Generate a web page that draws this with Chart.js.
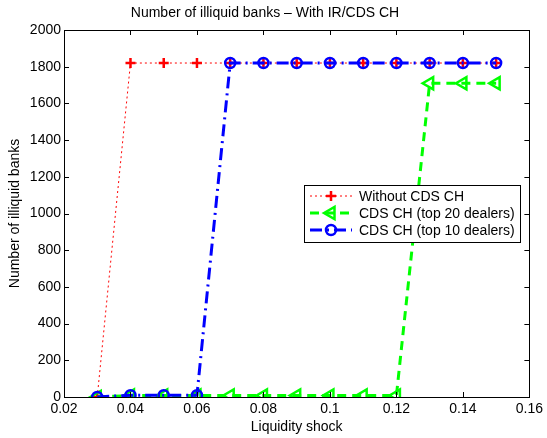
<!DOCTYPE html>
<html>
<head>
<meta charset="utf-8">
<script src="https://cdn.jsdelivr.net/npm/chart.js@4.4.0/dist/chart.umd.min.js"></script>
<style>
  html, body { margin: 0; padding: 0; background: #fff; }
  #wrap { width: 547px; height: 438px; }
</style>
</head>
<body>
<div id="wrap"><canvas id="c" width="547" height="438"></canvas></div>
<script>
// data
const shocks = [0.03, 0.04, 0.05, 0.06, 0.07, 0.08, 0.09, 0.10, 0.11, 0.12, 0.13, 0.14, 0.15];
const withoutCH = [0, 1820, 1820, 1820, 1820, 1820, 1820, 1820, 1820, 1820, 1820, 1820, 1820];
const top20CH = [0, 8, 8, 8, 8, 8, 8, 8, 8, 8, 1710, 1710, 1710];
const top10CH = [0, 10, 10, 10, 1820, 1820, 1820, 1820, 1820, 1820, 1820, 1820, 1820];
const seriesNames = ['Without CDS CH', 'CDS CH (top 20 dealers)', 'CDS CH (top 10 dealers)'];
const xTicks = [0.02, 0.04, 0.06, 0.08, 0.1, 0.12, 0.14, 0.16];

const FONT = '"Liberation Sans", Arial, Helvetica, sans-serif';

function pts(vals) {
  return shocks.map((x, i) => ({ x: x, y: vals[i] }));
}

// MATLAB style box with inward ticks + legend in the plot
const matlabFrame = {
  id: 'matlabFrame',
  afterDraw(chart) {
    const ctx = chart.ctx;
    const a = chart.chartArea;
    const xs = chart.scales.x, ys = chart.scales.y;
    ctx.save();
    ctx.strokeStyle = '#000';
    ctx.lineWidth = 1;
    ctx.setLineDash([]);
    ctx.beginPath();
    xs.ticks.forEach(t => {
      const px = Math.round(xs.getPixelForValue(t.value)) + 0.5;
      ctx.moveTo(px, a.bottom); ctx.lineTo(px, a.bottom - 5);
      ctx.moveTo(px, a.top); ctx.lineTo(px, a.top + 5);
    });
    ys.ticks.forEach(t => {
      const py = Math.round(ys.getPixelForValue(t.value)) + 0.5;
      ctx.moveTo(a.left, py); ctx.lineTo(a.left + 5, py);
      ctx.moveTo(a.right, py); ctx.lineTo(a.right - 5, py);
    });
    ctx.stroke();
    ctx.strokeRect(Math.round(a.left) + 0.5, Math.round(a.top) + 0.5,
      Math.round(a.right - a.left), Math.round(a.bottom - a.top));

    // legend box
    const bx = 304, by = 185, bw = 216, bh = 57;
    ctx.fillStyle = '#fff';
    ctx.fillRect(bx, by, bw, bh);
    ctx.strokeRect(bx + 0.5, by + 0.5, bw, bh);
    const rows = [196, 213, 230];
    ctx.font = '14px ' + FONT;
    ctx.textBaseline = 'middle';
    chart.data.datasets.forEach((ds, i) => {
      const y = rows[i];
      ctx.save();
      ctx.strokeStyle = ds.borderColor;
      ctx.lineWidth = ds.borderWidth;
      ctx.setLineDash(ds.borderDash || []);
      ctx.beginPath();
      ctx.moveTo(310, y); ctx.lineTo(352, y);
      ctx.stroke();
      ctx.setLineDash([]);
      ctx.strokeStyle = ds.pointBorderColor;
      ctx.fillStyle = ds.pointBackgroundColor;
      ctx.lineWidth = ds.pointBorderWidth;
      Chart.helpers.drawPoint(ctx, {
        pointStyle: ds.pointStyle,
        radius: ds.pointRadius,
        rotation: ds.pointRotation || 0,
        borderWidth: ds.pointBorderWidth
      }, 331, y);
      ctx.restore();
      ctx.fillStyle = '#000';
      ctx.fillText(ds.label, 359, y + 1);
    });
    ctx.restore();
  }
};

new Chart(document.getElementById('c'), {
  type: 'line',
  data: {
    datasets: [
      {
        label: seriesNames[0],
        data: pts(withoutCH),
        borderColor: '#ff0000',
        borderWidth: 1,
        borderDash: [2, 3],
        pointStyle: 'cross',
        pointRadius: 5,
        pointBorderWidth: 2.5,
        pointBorderColor: '#ff0000',
        pointBackgroundColor: '#ff0000',
        order: 2
      },
      {
        label: seriesNames[1],
        data: pts(top20CH),
        borderColor: '#00ff00',
        borderWidth: 3,
        borderDash: [9, 6],
        pointStyle: 'triangle',
        pointRotation: 270,
        pointRadius: 7,
        pointBorderWidth: 2.5,
        pointBorderColor: '#00ff00',
        pointBackgroundColor: 'rgba(0,0,0,0)',
        order: 1
      },
      {
        label: seriesNames[2],
        data: pts(top10CH),
        borderColor: '#0000ff',
        borderWidth: 3,
        borderDash: [12, 5, 2, 5],
        pointStyle: 'circle',
        pointRadius: 5,
        pointBorderWidth: 2.5,
        pointBorderColor: '#0000ff',
        pointBackgroundColor: 'rgba(0,0,0,0)',
        order: 0
      }
    ]
  },
  options: {
    responsive: false,
    animation: false,
    events: [],
    layout: { padding: { left: 0, right: 17, top: 0, bottom: 0 } },
    plugins: {
      legend: { display: false },
      tooltip: { enabled: false },
      title: {
        display: true,
        text: 'Number of illiquid banks \u2013 With IR/CDS CH',
        color: '#000',
        font: { family: FONT, size: 14, weight: 'normal' },
        padding: { top: 5, bottom: 8.2 }
      }
    },
    scales: {
      x: {
        type: 'linear',
        min: 0.02,
        max: 0.16,
        afterBuildTicks: s => { s.ticks = xTicks.map(v => ({ value: v })); },
        afterFit: s => { s.height = 41; },
        grid: { display: false, drawTicks: false },
        border: { display: false },
        ticks: {
          color: '#000',
          padding: 4,
          maxRotation: 0,
          autoSkip: false,
          font: { family: FONT, size: 14 },
          callback: v => String(Math.round(v * 100) / 100)
        },
        title: {
          display: true,
          text: 'Liquidity shock',
          color: '#000',
          font: { family: FONT, size: 14 },
          padding: { top: 0, bottom: 2.6 }
        }
      },
      y: {
        min: 0,
        max: 2000,
        afterFit: s => { s.width = 64; },
        grid: { display: false, drawTicks: false },
        border: { display: false },
        ticks: {
          color: '#000',
          stepSize: 200,
          padding: 3,
          font: { family: FONT, size: 14 },
          callback: v => String(v)
        },
        title: {
          display: true,
          text: 'Number of illiquid banks',
          color: '#000',
          font: { family: FONT, size: 14 },
          padding: { top: 6.6, bottom: 0 }
        }
      }
    }
  },
  plugins: [matlabFrame]
});
</script>
</body>
</html>
